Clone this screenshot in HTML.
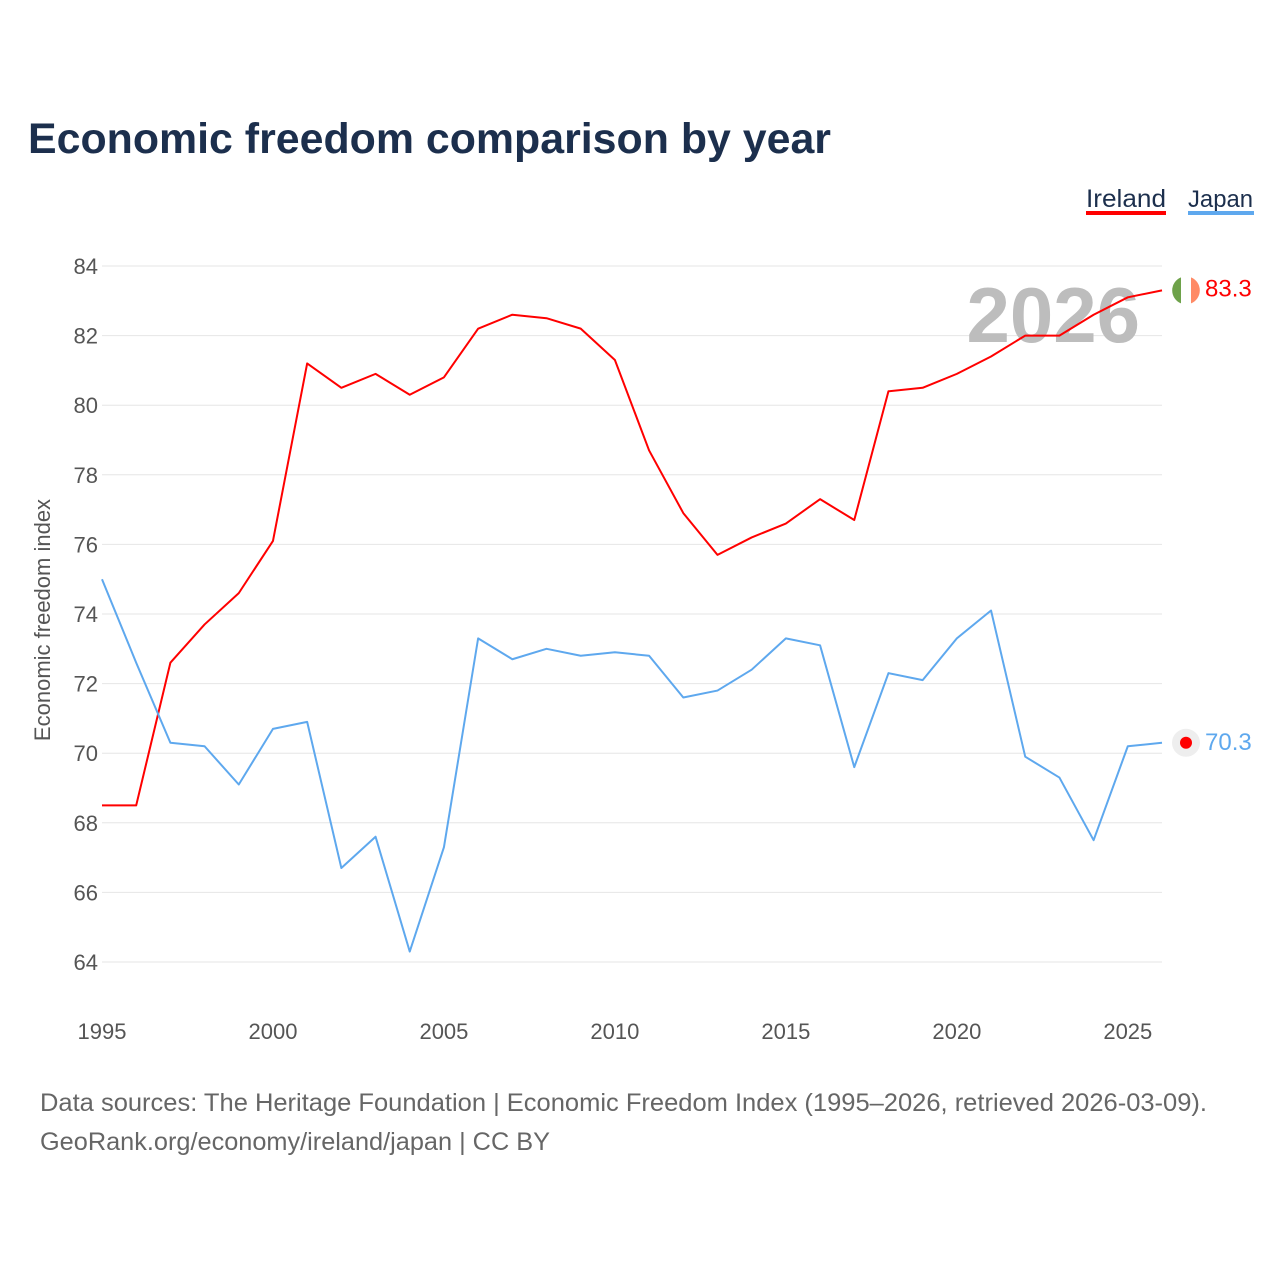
<!DOCTYPE html>
<html><head><meta charset="utf-8">
<style>
body{margin:0;background:#fff;}
svg{display:block;font-family:"Liberation Sans",sans-serif;}
</style></head>
<body>
<svg width="1280" height="1280" viewBox="0 0 1280 1280">
<text x="28" y="153" font-size="43" font-weight="bold" fill="#1c2f4d" textLength="803" lengthAdjust="spacingAndGlyphs">Economic freedom comparison by year</text>
<g>
 <text x="1086" y="207" font-size="25" fill="#1c2f4d" textLength="80" lengthAdjust="spacingAndGlyphs">Ireland</text>
 <rect x="1086" y="211" width="80" height="4" fill="#ff0000"/>
 <text x="1188" y="207" font-size="24" fill="#1c2f4d" textLength="65" lengthAdjust="spacingAndGlyphs">Japan</text>
 <rect x="1188" y="211" width="66" height="4" fill="#5ea8ee"/>
</g>
<g id="grid"></g>
<text x="1140" y="342" font-size="78" font-weight="bold" fill="#bdbdbd" text-anchor="end">2026</text>
<text transform="translate(50,620) rotate(-90)" font-size="22" fill="#555" text-anchor="middle">Economic freedom index</text>
<g id="series"></g>
<text x="40" y="1111" font-size="25" fill="#666" textLength="1167" lengthAdjust="spacingAndGlyphs">Data sources: The Heritage Foundation | Economic Freedom Index (1995–2026, retrieved 2026-03-09).</text>
<text x="40" y="1150" font-size="25" fill="#666" textLength="510" lengthAdjust="spacingAndGlyphs">GeoRank.org/economy/ireland/japan | CC BY</text>
</svg>
<script>
const years=[];for(let y=1995;y<=2026;y++)years.push(y);
const ireland=[68.5,68.5,72.6,73.7,74.6,76.1,81.2,80.5,80.9,80.3,80.8,82.2,82.6,82.5,82.2,81.3,78.7,76.9,75.7,76.2,76.6,77.3,76.7,80.4,80.5,80.9,81.4,82.0,82.0,82.6,83.1,83.3];
const japan=[75.0,72.6,70.3,70.2,69.1,70.7,70.9,66.7,67.6,64.3,67.3,73.3,72.7,73.0,72.8,72.9,72.8,71.6,71.8,72.4,73.3,73.1,69.6,72.3,72.1,73.3,74.1,69.9,69.3,67.5,70.2,70.3];
const yTicks=[64,66,68,70,72,74,76,78,80,82,84];
const xTicks=[1995,2000,2005,2010,2015,2020,2025];
const NS="http://www.w3.org/2000/svg";
const X=y=>102+(y-1995)*(1060/31);
const Y=v=>962-(v-64)*(696/20);
function mk(t,a,p){const e=document.createElementNS(NS,t);for(const k in a)e.setAttribute(k,a[k]);p.appendChild(e);return e;}
const g=document.getElementById('grid');
yTicks.forEach(v=>{
 const l=mk('line',{x1:102,x2:1162,y1:Y(v),y2:Y(v),stroke:'#e6e6e6','stroke-width':1},g);
 
 
 const t=mk('text',{x:98,y:Y(v)+8,'font-size':22,fill:'#555','text-anchor':'end'},g);
 t.textContent=v;
 
 
});
xTicks.forEach(v=>{
 const t=mk('text',{x:X(v),y:1039,'font-size':22,fill:'#555','text-anchor':'middle'},g);
 t.textContent=v;
 
 
});
const s=document.getElementById('series');
function line(data,color,name){
 const p=mk('polyline',{points:data.map((v,i)=>X(years[i])+','+Y(v)).join(' '),fill:'none',stroke:color,'stroke-width':2,'stroke-linejoin':'round'},s);
 
 
}
line(ireland,'#ff0000','ireland');
line(japan,'#5ea8ee','japan');
const li=ireland[ireland.length-1],lj=japan[japan.length-1];
const iy=Y(li),jy=Y(lj);
const fi=mk('g',{},s);


mk('circle',{cx:1186,cy:iy,r:14,fill:'#fff'},fi);
mk('path',{d:`M1181,${iy-13} A14,14 0 0 0 1181,${iy+13} Z`,fill:'#6ea24a'},fi);
mk('path',{d:`M1191,${iy-13} A14,14 0 0 1 1191,${iy+13} Z`,fill:'#ff8a65'},fi);
const fj=mk('g',{},s);


mk('circle',{cx:1186,cy:jy,r:14,fill:'#eeeeee'},fj);
mk('circle',{cx:1186,cy:jy,r:6,fill:'#ff0000'},fj);
const ti=mk('text',{x:1205,y:iy+6,'font-size':24,fill:'#ff0000'},s);
ti.textContent=li.toFixed(1);


const tj=mk('text',{x:1205,y:jy+7,'font-size':24,fill:'#5ea8ee'},s);
tj.textContent=lj.toFixed(1);


</script>
</body></html>
